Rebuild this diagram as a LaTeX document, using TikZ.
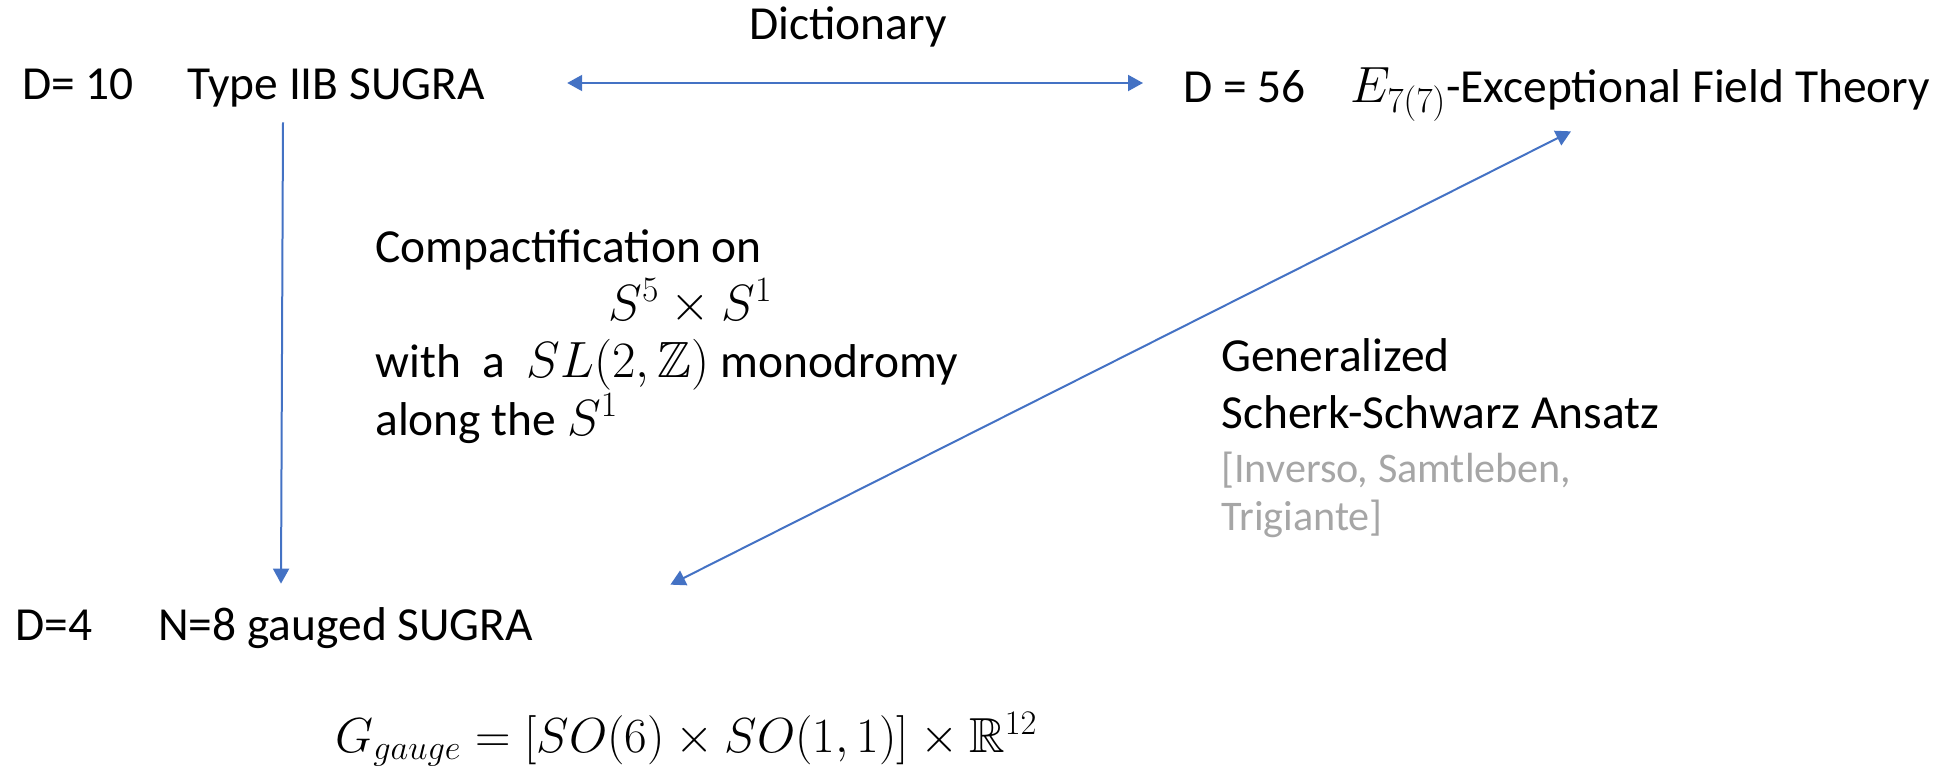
\RequirePackage{fix-cm}
\documentclass[tikz,border=0pt]{standalone}
\usepackage{amssymb}
\usepackage{fontspec}
\setmainfont{Carlito}
\usetikzlibrary{arrows.meta, calc}
\definecolor{pblue}{RGB}{68,114,196}
\definecolor{cgrey}{RGB}{166,166,166}
\newcommand{\mth}[1]{{\fontsize{29}{33}\selectfont$#1$}}

\begin{document}
\begin{tikzpicture}[x=0.02cm, y=0.02cm,
  txt/.style={inner sep=0pt, anchor=base west, text height=0.68cm,
              text depth=0.24cm, font=\fontsize{27}{33}\selectfont},
  ref/.style={txt, text=cgrey, font=\fontsize{24}{29}\selectfont},
  arr/.style={-{Triangle[length=0.3cm,width=0.32cm]}, pblue, line width=0.04cm},
  darr/.style={{Triangle[length=0.3cm,width=0.32cm]}-{Triangle[length=0.3cm,width=0.32cm]},
               pblue, line width=0.04cm}
]
\useasboundingbox (0,0) rectangle (1959,769);
% top row
\node[txt] (d10)  at (22,670)   {D= 10};
\node[txt] (t10)  at (187,670)  {Type IIB SUGRA};
\node[txt] (dict) at (749,729)  {Dictionary};
\node[txt] (d56)  at (1183,666) {D = 56};
\node[txt] (eft)  at (1350,666) {\mth{E_{7(7)}}-Exceptional Field Theory};
% compactification
\node[txt] (c1) at (375,507) {Compactification on};
\node[txt] (c2) at (608,449) {\mth{S^5\times S^1}};
\node[txt] (c3) at (375,392) {with\ \ a\ \ \mth{SL(2,\mathbb{Z})} monodromy};
\node[txt] (c4) at (375,334) {along the \mth{S^1}};
% ansatz
\node[txt] (g1) at (1221,398) {Generalized};
\node[txt] (g2) at (1221,341) {Scherk-Schwarz Ansatz};
\node[ref] (g3) at (1221,287) {[Inverso, Samtleben,};
\node[ref] (g4) at (1221,239) {Trigiante]};
% bottom row
\node[txt] (d4) at (15,129)  {D=4};
\node[txt] (n8) at (158,129) {N=8 gauged SUGRA};
\node[txt, font=\fontsize{28}{33}\selectfont] (gg) at (335,17)
  {$G_{gauge} = [SO(6)\times SO(1,1)]\times\mathbb{R}^{12}$};
% arrows
\draw[darr] ($(t10.east)+(82,5)$) -- ($(t10.east -| d56.west)+(-40,5)$);
\draw[arr] ($(t10.south west)+(96,-11)$) -- ($(n8.north west)+(123,22)$);
\draw[darr] ($(eft.south west)+(221,-16)$) -- ($(n8.north east)+(137,21)$);
\end{tikzpicture}
\end{document}
